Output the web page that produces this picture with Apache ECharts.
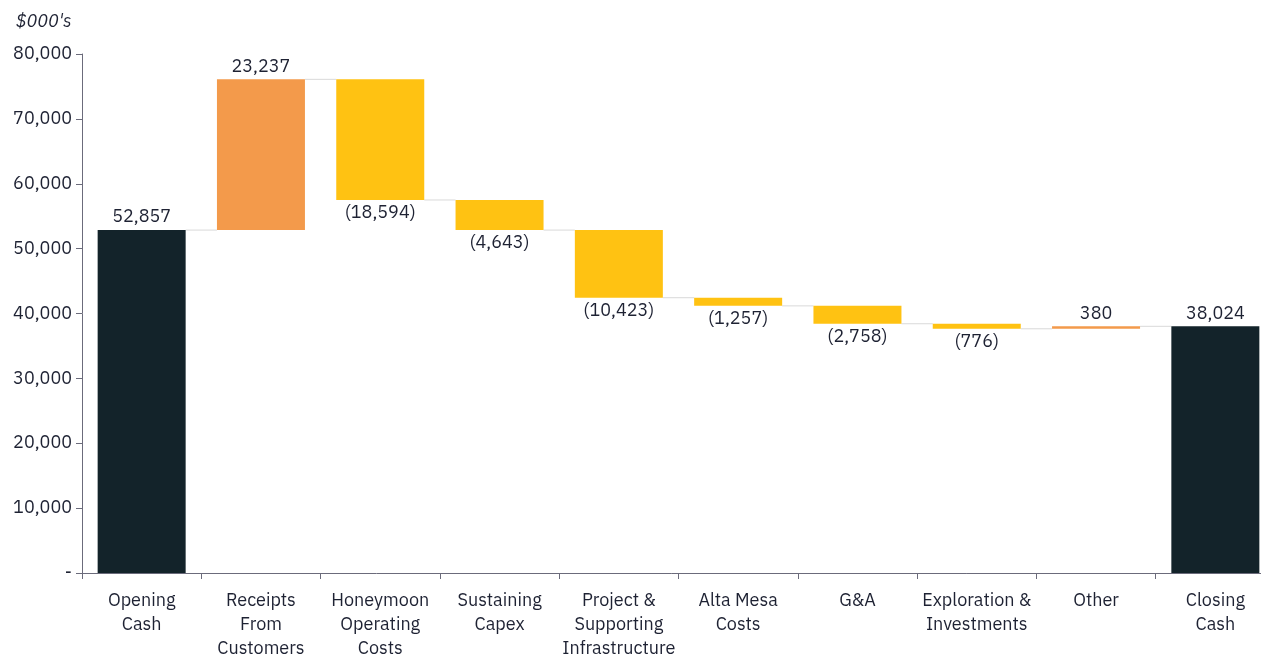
<!DOCTYPE html>
<html><head><meta charset="utf-8">
<script src="https://cdn.jsdelivr.net/npm/echarts@6/dist/echarts.min.js"></script>
<style>html,body{margin:0;padding:0;background:#fff}#c{width:1261px;height:655px}</style>
</head><body><div id="c"></div>
<script>
const categories = ["Opening\nCash","Receipts\nFrom\nCustomers","Honeymoon\nOperating\nCosts","Sustaining\nCapex","Project &\nSupporting\nInfrastructure","Alta Mesa\nCosts","G&A","Exploration &\nInvestments","Other","Closing\nCash"];
const changes = [52857, 23237, -18594, -4643, -10423, -1257, -2758, -776, 380, 38024];
const kinds = ["total","up","down","down","down","down","down","down","up","total"];
const yTicks = [0,10000,20000,30000,40000,50000,60000,70000,80000];

const colors = {total:'#13232a', up:'#f39a4b', down:'#ffc212'};
const base = [], vis = [], conn = [];
let run = 0;
changes.forEach((v,i)=>{
  let lo, hi;
  if (kinds[i]==='total'){ lo=0; hi=v; run=v; }
  else { const nr = run+v; lo=Math.min(run,nr); hi=Math.max(run,nr); run=nr; }
  base.push(lo);
  vis.push({value: hi-lo, itemStyle:{color:colors[kinds[i]]},
    label:{position: v<0 ? 'bottom':'top'}});
  if (i<changes.length-1) conn.push([i, run]);
});
const fmt = v => { const s=Math.abs(v).toLocaleString('en-US'); return v<0?'('+s+')':s; };
const txt = '#1e2233';
const font = "'IBM Plex Sans','Noto Sans',sans-serif";
const chart = echarts.init(document.getElementById('c'));
chart.setOption({
  animation:false,
  textStyle:{fontFamily:font},
  grid:{left:82, right:-14, top:54, bottom:82, containLabel:false, outerBoundsMode:'none'},
  graphic:[{type:'text', left:16, top:13, style:{text:"$000's", font:"italic 18px "+font, fill:txt}}],
  xAxis:{type:'category', data:categories,
    axisLine:{lineStyle:{color:'#6b6b7b'}},
    axisTick:{show:true, length:6, lineStyle:{color:'#6b6b7b'}},
    axisLabel:{color:txt, fontSize:18, lineHeight:24, margin:16, interval:0}},
  yAxis:{type:'value', min:0, max:80000, interval:10000,
    splitLine:{show:false},
    axisLine:{show:true, lineStyle:{color:'#6b6b7b'}},
    axisTick:{show:true, length:6, lineStyle:{color:'#6b6b7b'}},
    axisLabel:{color:txt, fontSize:18, margin:10,
      formatter: v => v===0 ? '-' : v.toLocaleString('en-US')}},
  series:[
    {type:'bar', stack:'w', data:base, barWidth:88, itemStyle:{color:'transparent'}, silent:true},
    {type:'bar', stack:'w', data:vis, barWidth:88,
      label:{show:true, color:txt, fontSize:18, distance:4,
        formatter: p => fmt(changes[p.dataIndex])}},
    {type:'custom', data:conn, z:1,
      renderItem:(params, api)=>{
        const i=api.value(0), y=api.value(1);
        const p1=api.coord([i,y]), p2=api.coord([i+1,y]);
        const bw = 88/2;
        return {type:'line', shape:{x1:p1[0]+bw, y1:p1[1], x2:p2[0]-bw, y2:p2[1]},
          style:{stroke:'#d9d9d9', lineWidth:1}};
      }}
  ]
});
</script></body></html>
